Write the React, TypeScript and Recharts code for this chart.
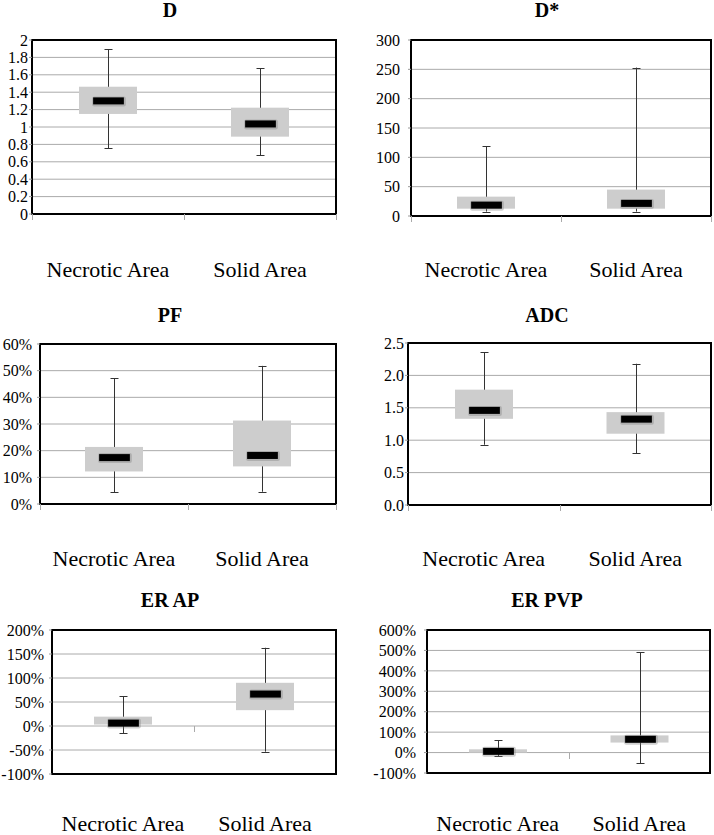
import React from 'react'
import {
  ComposedChart,
  Bar,
  XAxis,
  YAxis,
  CartesianGrid,
  ReferenceLine,
  ReferenceArea,
} from 'recharts'

const SERIF = "'Liberation Serif', 'Times New Roman', Tinos, 'DejaVu Serif', serif"

const CATEGORIES = ['Necrotic Area', 'Solid Area']

// each stat list: [min, q1, median, q3, max]
const D_NECROTIC = [0.755, 1.15, 1.3, 1.463, 1.893]
const D_SOLID = [0.678, 0.889, 1.035, 1.222, 1.674]
const D_TICKS = [0, 0.2, 0.4, 0.6, 0.8, 1, 1.2, 1.4, 1.6, 1.8, 2]

const DSTAR_NECROTIC = [7.5, 12.5, 18.5, 33, 119]
const DSTAR_SOLID = [7.5, 12.5, 21.5, 45, 253]
const DSTAR_TICKS = [0, 50, 100, 150, 200, 250, 300]

const PF_NECROTIC = [4.5, 12.2, 17.4, 21.4, 47.2]
const PF_SOLID = [4.6, 14.1, 18.2, 31.3, 51.8]
const PF_TICKS = [0, 10, 20, 30, 40, 50, 60]

const ADC_NECROTIC = [0.93, 1.33, 1.46, 1.78, 2.36]
const ADC_SOLID = [0.8, 1.1, 1.325, 1.433, 2.18]
const ADC_TICKS = [0, 0.5, 1, 1.5, 2, 2.5]

const ERAP_NECROTIC = [-14.6, 3, 6, 19.5, 62]
const ERAP_SOLID = [-53.5, 33, 66.5, 90, 163]
const ERAP_TICKS = [-100, -50, 0, 50, 100, 150, 200]

const ERPVP_NECROTIC = [-18, 0, 6, 16, 61]
const ERPVP_SOLID = [-52, 49, 65, 84, 492]
const ERPVP_TICKS = [-100, 0, 100, 200, 300, 400, 500, 600]

const fmtPlain = (v: number) => String(v)
const fmtFixed = (v: number) => v.toFixed(1)
const fmtPct = (v: number) => `${v}%`

function buildRows(necrotic: number[], solid: number[]) {
  return CATEGORIES.map((name, i) => {
    const s = i === 0 ? necrotic : solid
    return { name, range: [s[0], s[4]], min: s[0], q1: s[1], med: s[2], q3: s[3], max: s[4] }
  })
}

function BoxShape(props: any) {
  const { x, y, width, height, payload } = props
  if (!payload || width == null) return null
  const top = Math.min(y, y + height)
  const bottom = Math.max(y, y + height)
  const span = payload.max - payload.min
  const toY = (v: number) => bottom - ((v - payload.min) / span) * (bottom - top)
  const cx = Math.round(x + width / 2) + 0.5
  const capW = 4
  const medW = width * 0.53
  const medH = 7
  const yq3 = toY(payload.q3)
  const yq1 = toY(payload.q1)
  const ymed = toY(payload.med)
  return (
    <g>
      <line x1={cx} x2={cx} y1={top} y2={bottom} stroke="#333" strokeWidth={1} />
      <line x1={cx - capW} x2={cx + capW} y1={Math.round(top) + 0.5} y2={Math.round(top) + 0.5} stroke="#333" strokeWidth={1} />
      <line x1={cx - capW} x2={cx + capW} y1={Math.round(bottom) + 0.5} y2={Math.round(bottom) + 0.5} stroke="#333" strokeWidth={1} />
      <rect x={x} y={yq3} width={width} height={yq1 - yq3} fill="#cdcdcd" />
      <rect x={cx - medW / 2 - 1} y={ymed - medH / 2 - 1} width={medW + 3} height={medH + 3} fill="#777" opacity={0.35} rx={2} />
      <rect x={cx - medW / 2} y={ymed - medH / 2} width={medW} height={medH} fill="#000" />
    </g>
  )
}

interface PanelLayout {
  left: number
  plotLeft: number
  plotRight: number
  plotTop: number
  plotBottom: number
  titleY: number
  labelY: number
  tickGap: number
  zeroAxis: boolean
}

interface PanelProps {
  title: string
  necrotic: number[]
  solid: number[]
  ticks: number[]
  format: (v: number) => string
  layout: PanelLayout
}

function Panel({ title, necrotic, solid, ticks, format, layout }: PanelProps) {
  const data = buildRows(necrotic, solid)
  const chartTop = layout.plotTop - 12
  const width = 357
  const height = Math.min(layout.labelY + 16, 835) - chartTop
  const titleX = layout.left === 0 ? 170 : 547
  const labelOffset = layout.labelY - layout.plotBottom

  const axisTicks = (p: any) => {
    const { x1, x2, y1 } = p
    const mid = (x1 + x2) / 2
    const yy = Math.round(y1)
    if (layout.zeroAxis) {
      return (
        <g>
          <line x1={Math.round(mid) + 0.5} x2={Math.round(mid) + 0.5} y1={yy} y2={yy + 6} stroke="#aaa" strokeWidth={1} />
        </g>
      )
    }
    return (
      <g>
        {[x1, mid, x2].map((xx: number, i: number) => (
          <line key={i} x1={Math.round(xx) + 0.5} x2={Math.round(xx) + 0.5} y1={yy} y2={yy + 6} stroke="#aaa" strokeWidth={1} />
        ))}
      </g>
    )
  }

  const catTick = (p: any) => (
    <text
      x={p.x}
      y={p.y + labelOffset}
      textAnchor="middle"
      dominantBaseline="central"
      fontSize={22}
      style={{ fontFamily: SERIF }}
      fill="#000"
    >
      {p.payload.value}
    </text>
  )

  return (
    <>
      <div
        style={{
          position: 'absolute',
          left: titleX - 100,
          top: layout.titleY - 12,
          width: 200,
          lineHeight: '24px',
          textAlign: 'center',
          fontFamily: SERIF,
          fontWeight: 'bold',
          fontSize: 20,
          color: '#000',
        }}
      >
        {title}
      </div>
      <div style={{ position: 'absolute', left: layout.left, top: chartTop, fontFamily: SERIF }}>
        <ComposedChart
          width={width}
          height={height}
          data={data}
          style={{ fontFamily: SERIF }}
          margin={{ top: 12, right: layout.left + width - layout.plotRight, left: 0, bottom: 0 }}
        >
          <CartesianGrid vertical={false} stroke="#aaa" />
          <XAxis
            dataKey="name"
            axisLine={false}
            tickLine={false}
            tickSize={0}
            tickMargin={0}
            interval={0}
            height={Math.min(layout.labelY + 16, 835) - layout.plotBottom}
            tick={catTick}
          />
          <YAxis
            type="number"
            domain={[ticks[0], ticks[ticks.length - 1]]}
            ticks={ticks}
            interval={0}
            width={layout.plotLeft - layout.left}
            axisLine={false}
            tickSize={3}
            tickMargin={layout.tickGap - 3}
            tickLine={{ stroke: '#999' }}
            tickFormatter={format}
            tick={{ fontSize: 16, fill: '#000', style: { fontFamily: SERIF } }}
          />
          <ReferenceLine y={0} stroke="none" shape={axisTicks} />
          <Bar dataKey="range" barSize={58} shape={BoxShape} isAnimationActive={false} />
          <ReferenceArea
            y1={ticks[0]}
            y2={ticks[ticks.length - 1]}
            fill="none"
            fillOpacity={0}
            stroke="#000"
            strokeWidth={2}
          />
        </ComposedChart>
      </div>
    </>
  )
}

export default function App() {
  return (
    <div style={{ position: 'absolute', left: 0, top: 0, width: 714, height: 835, background: '#fff', overflow: 'hidden' }}>
      <Panel
        title="D"
        necrotic={D_NECROTIC}
        solid={D_SOLID}
        ticks={D_TICKS}
        format={fmtPlain}
        layout={{ left: 0, plotLeft: 32, plotRight: 336, plotTop: 40, plotBottom: 214, titleY: 10, labelY: 269, tickGap: 4, zeroAxis: false }}
      />
      <Panel
        title="D*"
        necrotic={DSTAR_NECROTIC}
        solid={DSTAR_SOLID}
        ticks={DSTAR_TICKS}
        format={fmtPlain}
        layout={{ left: 357, plotLeft: 411, plotRight: 711, plotTop: 40, plotBottom: 216, titleY: 10, labelY: 269, tickGap: 11, zeroAxis: false }}
      />
      <Panel
        title="PF"
        necrotic={PF_NECROTIC}
        solid={PF_SOLID}
        ticks={PF_TICKS}
        format={fmtPct}
        layout={{ left: 0, plotLeft: 40, plotRight: 336, plotTop: 344, plotBottom: 504, titleY: 315, labelY: 558, tickGap: 8, zeroAxis: false }}
      />
      <Panel
        title="ADC"
        necrotic={ADC_NECROTIC}
        solid={ADC_SOLID}
        ticks={ADC_TICKS}
        format={fmtFixed}
        layout={{ left: 357, plotLeft: 408, plotRight: 711, plotTop: 343, plotBottom: 505, titleY: 315, labelY: 558, tickGap: 4, zeroAxis: false }}
      />
      <Panel
        title="ER AP"
        necrotic={ERAP_NECROTIC}
        solid={ERAP_SOLID}
        ticks={ERAP_TICKS}
        format={fmtPct}
        layout={{ left: 0, plotLeft: 52, plotRight: 336, plotTop: 630, plotBottom: 774, titleY: 600, labelY: 823, tickGap: 8, zeroAxis: true }}
      />
      <Panel
        title="ER PVP"
        necrotic={ERPVP_NECROTIC}
        solid={ERPVP_SOLID}
        ticks={ERPVP_TICKS}
        format={fmtPct}
        layout={{ left: 357, plotLeft: 427, plotRight: 710, plotTop: 630, plotBottom: 773, titleY: 600, labelY: 823, tickGap: 11, zeroAxis: true }}
      />
    </div>
  )
}
